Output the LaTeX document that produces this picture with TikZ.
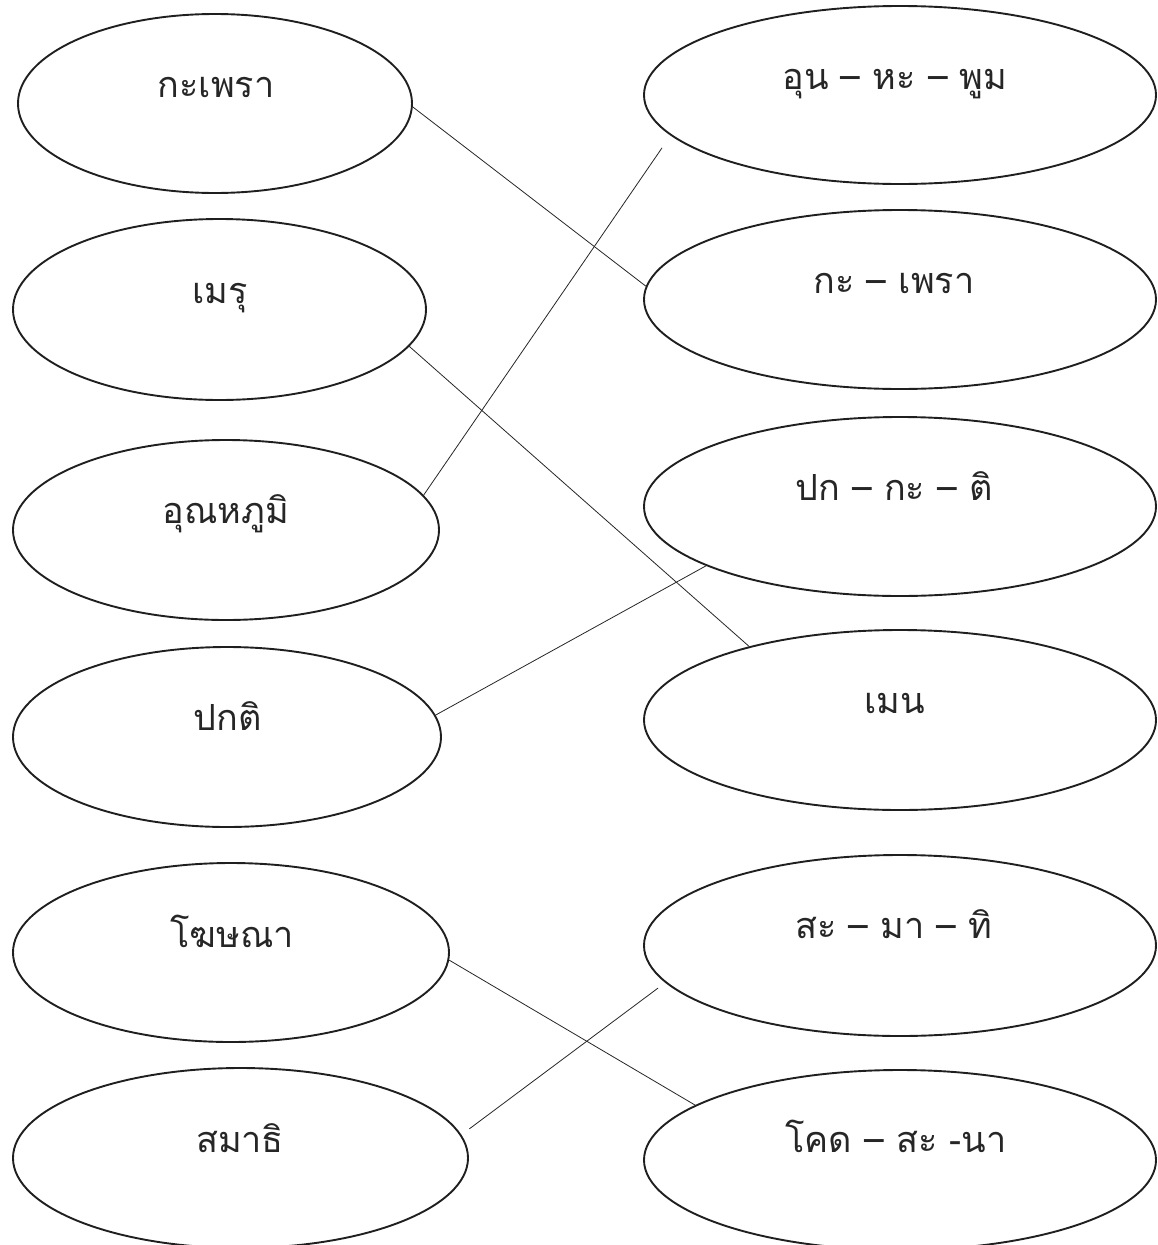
\documentclass[tikz,border=0pt]{standalone}
\usepackage{fontspec}
\newfontfamily\thaifont[Script=Thai]{Loma}
\usetikzlibrary{shapes.geometric}
\begin{document}
\begin{tikzpicture}[x=1pt,y=-1pt,
  oval/.style={draw=black!88, line width=1.9pt, ellipse, inner sep=0pt},
  word/.style={font=\thaifont\fontsize{36}{42}\selectfont, anchor=base, text=black!85, inner sep=0pt},
  link/.style={line width=0.8pt, draw=black!85}]
\useasboundingbox (0,0) rectangle (1157,1245);
% left column
\node[oval, minimum width=394pt, minimum height=179pt] (L1) at (215,103.5) {};
\node[oval, minimum width=413pt, minimum height=181pt] (L2) at (219.5,309.5) {};
\node[oval, minimum width=426pt, minimum height=180pt] (L3) at (226,530) {};
\node[oval, minimum width=428pt, minimum height=180pt] (L4) at (227,737) {};
\node[oval, minimum width=436pt, minimum height=179pt] (L5) at (231,952.5) {};
\node[oval, minimum width=455pt, minimum height=180pt] (L6) at (240.5,1158) {};
% right column
\node[oval, minimum width=512pt, minimum height=178pt] (R1) at (900,95) {};
\node[oval, minimum width=512pt, minimum height=179pt] (R2) at (900,299.5) {};
\node[oval, minimum width=512pt, minimum height=179pt] (R3) at (900,506.5) {};
\node[oval, minimum width=512pt, minimum height=180pt] (R4) at (900,720) {};
\node[oval, minimum width=512pt, minimum height=181pt] (R5) at (900,945.5) {};
\node[oval, minimum width=512pt, minimum height=180pt] (R6) at (900,1160) {};
% texts
\node[word] (TL1) at (216,97) {กะเพรา};
\node[word] (TL2) at (220,303) {เมรุ};
\node[word] (TL3) at (226,523) {อุณหภูมิ};
\node[word] (TL4) at (228,730) {ปกติ};
\node[word] (TL5) at (232,947) {โฆษณา};
\node[word] (TL6) at (240,1152) {สมาธิ};
\node[word] (TR1) at (895,89) {อุน – หะ – พูม};
\node[word] (TR2) at (894,293) {กะ – เพรา};
\node[word] (TR3) at (894,500) {ปก – กะ – ติ};
\node[word] (TR4) at (895,713) {เมน};
\node[word] (TR5) at (894,938) {สะ – มา – ทิ};
\node[word] (TR6) at (896,1152) {โคด – สะ -นา};
% connectors
\draw[link] (L1.-1.15) -- (R2.177.1);
\draw[link] (L2.-11.5) -- (R4.154.8);
\draw[link, shorten >=15pt] (L3.10) -- (R1.190.1);
\draw[link] (L4.6.4) -- (R3.197.1);
\draw[link] (L5.-2.1) -- (R6.165.1);
\draw[link, shorten <=10pt, shorten >=9pt] (L6.6.4) -- (R5.189.9);
\end{tikzpicture}
\end{document}
